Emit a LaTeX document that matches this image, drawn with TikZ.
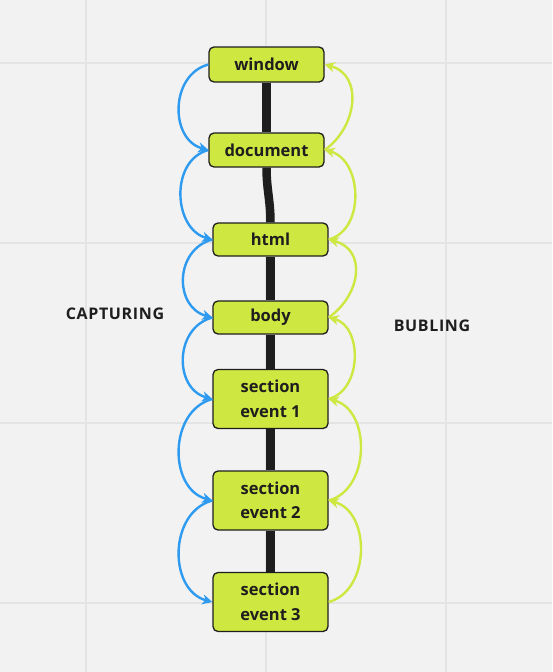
\documentclass[tikz,border=0pt]{standalone}
\usepackage{fontspec}
\setmainfont{Open Sans}
\usetikzlibrary{arrows.meta}
\definecolor{bgc}{HTML}{F2F2F2}
\definecolor{gridc}{HTML}{E4E4E4}
\definecolor{lime}{HTML}{CEE741}
\definecolor{capblue}{HTML}{2E9BF0}
\definecolor{ink}{HTML}{1E1E1E}
\tikzset{
  evbox/.style={draw=ink, line width=1.3pt, fill=lime, rounded corners=5pt,
    minimum width=115pt, inner sep=0pt, align=center, text=ink,
    font=\bfseries\fontsize{16.5}{24.5}\selectfont},
  spine/.style={draw=ink, line width=8.5pt},
  capt/.style={draw=capblue, line width=2.4pt, -{Stealth[length=10pt,width=10pt,inset=3pt]}},
  bubl/.style={draw=lime, line width=2.4pt, -{Stealth[length=10pt,width=10pt,inset=3pt]}},
  lbl/.style={text=ink, font=\bfseries\fontsize{16}{18}\selectfont\addfontfeature{LetterSpace=4}},
  gridline/.style={draw=gridc, line width=1.5pt}
}
\begin{document}
\begin{tikzpicture}[x=1pt,y=1pt]
\fill[bgc] (0,0) rectangle (552,-672);
\useasboundingbox (0,0) rectangle (552,-672);
\foreach \gx in {86,266,446} \draw[gridline] (\gx,0) -- (\gx,-672);
\foreach \gy in {63,243,423,603} \draw[gridline] (0,-\gy) -- (552,-\gy);

\node[evbox, minimum height=35pt] (w) at (266.5,-64.5) {window};
\node[evbox, minimum height=34pt] (d) at (266.5,-150) {document};
\node[evbox, minimum height=33pt] (h) at (270.5,-239.5) {html};
\node[evbox, minimum height=33pt] (b) at (270.5,-317.5) {body};
\node[evbox, minimum height=59pt] (e1) at (270.5,-399) {section\\event 1};
\node[evbox, minimum height=59pt] (e2) at (270.5,-500.5) {section\\event 2};
\node[evbox, minimum height=59pt] (e3) at (270.5,-602) {section\\event 3};

\draw[spine] (w.south) -- (d.north);
\draw[spine] (d.south) to[out=-90,in=90] (h.north);
\draw[spine] (h.south) -- (b.north);
\draw[spine] (b.south) -- (e1.north);
\draw[spine] (e1.south) -- (e2.north);
\draw[spine] (e2.south) -- (e3.north);

\draw[capt] (w.west) to[out=195,in=165,looseness=1.2] (d.west);
\draw[capt] (d.west) to[out=195,in=165,looseness=1.15] (h.west);
\draw[capt] (h.west) to[out=195,in=165,looseness=1.3] (b.west);
\draw[capt] (b.west) to[out=195,in=165,looseness=1.25] (e1.west);
\draw[capt] (e1.west) to[out=195,in=165,looseness=1.15] (e2.west);
\draw[capt] (e2.west) to[out=195,in=165,looseness=1.15] (e3.west);

\draw[bubl] (d.east) to[out=35,in=-15,looseness=1.2] (w.east);
\draw[bubl] (h.east) to[out=15,in=-15,looseness=1.1] (d.east);
\draw[bubl] (b.east) to[out=35,in=-15,looseness=1.3] (h.east);
\draw[bubl] (e1.east) to[out=15,in=-15,looseness=1.1] (b.east);
\draw[bubl] (e2.east) to[out=15,in=-15,looseness=1.1] (e1.east);
\draw[bubl] (e3.east) to[out=15,in=-15,looseness=1.1] (e2.east);

\node[lbl] (cap) at (115,-314) {CAPTURING};
\node[lbl] (bub) at (432,-326) {BUBLING};
\end{tikzpicture}
\end{document}
